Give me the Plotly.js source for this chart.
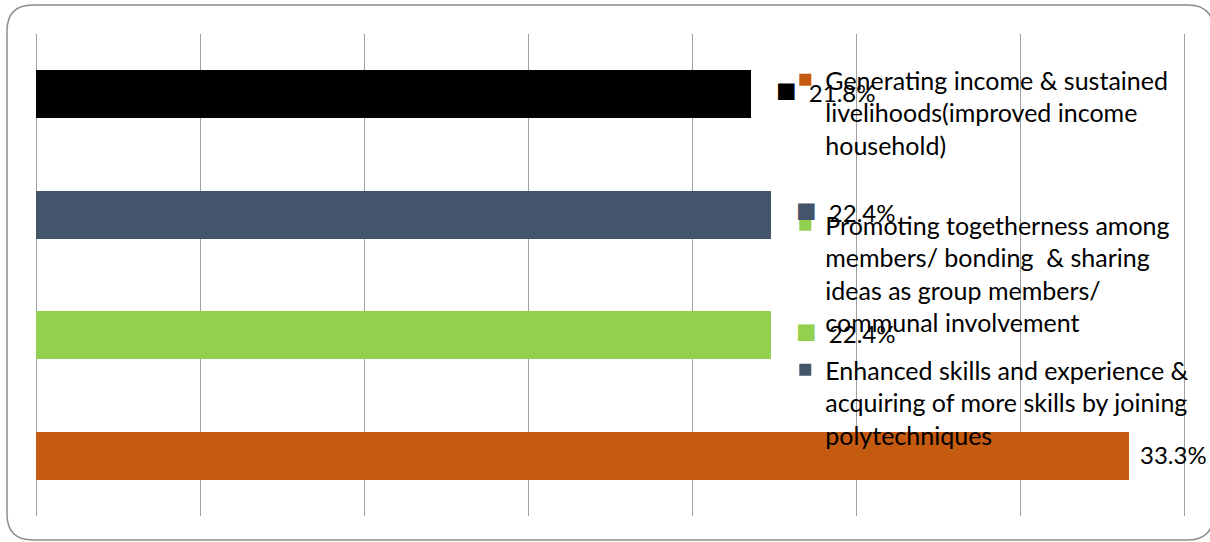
<!DOCTYPE html>
<html>
<head>
<meta charset="utf-8">
<script src="https://cdn.plot.ly/plotly-3.0.1.min.js"></script>
<style>
  html, body { margin: 0; padding: 0; background: #fff; }
  #chart { width: 1210px; height: 542px; }
</style>
</head>
<body>
<div id="chart"></div>
<script>
// ---- data (bottom to top) ----
const categories = ['Generating income', 'Promoting togetherness', 'Enhanced skills', 'Other'];
const values = [33.3, 22.4, 22.4, 21.8];
const legendNames = [
  'Generating income & sustained<br>livelihoods(improved income<br>household)<br>\u00a0',
  'Promoting togetherness among<br>members/ bonding  & sharing<br>ideas as group members/<br>communal involvement',
  'Enhanced skills and experience &<br>acquiring of more skills by joining<br>polytechniques',
  'Other'
];
const inLegend = [true, true, true, false];
const labelHasKey = [false, true, true, true];

// ---- styles ----
const colors = ['#C55A11', '#92D050', '#44546A', '#000000'];
const FONT = 'Lato, "Open Sans", sans-serif';
const W = 1210, H = 542;
const XMAX = 35.2;
const pw = 1148 * XMAX / 35;
const M = { l: 36, r: W - 36 - pw, t: 34, b: 26 };

const traces = categories.map((c, i) => ({
  type: 'bar',
  orientation: 'h',
  x: [values[i]],
  y: [c],
  name: legendNames[i],
  legendgroup: 'g' + i,
  showlegend: inLegend[i],
  marker: { color: colors[i], line: { width: 0 } },
  hoverinfo: 'x'
}));

const annotations = categories.map((c, i) => ({
  x: values[i],
  y: c,
  xref: 'x',
  yref: 'y',
  xanchor: 'left',
  yanchor: 'middle',
  xshift: labelHasKey[i] ? 23 : 9,
  yshift: labelHasKey[i] ? 6 : 1,
  showarrow: false,
  font: { family: FONT, size: 24, color: '#000' },
  text: labelHasKey[i]
    ? '<span style="color:' + colors[i] + ';font-size:34px">■</span>  ' + values[i].toFixed(1) + '%'
    : values[i].toFixed(1) + '%'
}));

// rounded border in paper coordinates
const ph = H - M.t - M.b;
const px = v => ((v - M.l) / pw).toFixed(5);
const py = v => ((H - M.b - v) / ph).toFixed(5);
const bx0 = 7, by0 = 5, bx1 = 1213, by1 = 540, r = 26;
const path =
  'M' + px(bx0 + r) + ',' + py(by0) +
  ' L' + px(bx1 - r) + ',' + py(by0) +
  ' Q' + px(bx1) + ',' + py(by0) + ' ' + px(bx1) + ',' + py(by0 + r) +
  ' L' + px(bx1) + ',' + py(by1 - r) +
  ' Q' + px(bx1) + ',' + py(by1) + ' ' + px(bx1 - r) + ',' + py(by1) +
  ' L' + px(bx0 + r) + ',' + py(by1) +
  ' Q' + px(bx0) + ',' + py(by1) + ' ' + px(bx0) + ',' + py(by1 - r) +
  ' L' + px(bx0) + ',' + py(by0 + r) +
  ' Q' + px(bx0) + ',' + py(by0) + ' ' + px(bx0 + r) + ',' + py(by0) + ' Z';

const layout = {
  width: W,
  height: H,
  margin: M,
  paper_bgcolor: '#ffffff',
  plot_bgcolor: '#ffffff',
  barmode: 'stack',
  bargap: 0.6,
  font: { family: FONT, size: 25, color: '#000' },
  xaxis: {
    range: [0, XMAX],
    dtick: 5,
    tick0: 0,
    showgrid: true,
    gridcolor: '#a0a0a0',
    gridwidth: 1,
    zeroline: true,
    zerolinecolor: '#a0a0a0',
    zerolinewidth: 1,
    showticklabels: false,
    ticks: '',
    showline: false,
    fixedrange: true
  },
  yaxis: {
    type: 'category',
    categoryorder: 'array',
    categoryarray: categories,
    showticklabels: false,
    ticks: '',
    showgrid: false,
    zeroline: false,
    showline: false,
    fixedrange: true
  },
  showlegend: true,
  legend: {
    x: (785 - M.l) / pw,
    y: (H - M.b - 57) / ph,
    xanchor: 'left',
    yanchor: 'top',
    bgcolor: 'rgba(0,0,0,0)',
    borderwidth: 0,
    font: { family: FONT, size: 25, color: '#000' },
    valign: 'top',
    traceorder: 'grouped',
    tracegroupgap: 12
  },
  annotations: annotations,
  shapes: [{
    type: 'path',
    xref: 'paper',
    yref: 'paper',
    path: path,
    line: { color: '#8c8c8c', width: 1.5 },
    layer: 'above'
  }]
};

Plotly.newPlot('chart', traces, layout, { displayModeBar: false, staticPlot: true });
</script>
</body>
</html>
